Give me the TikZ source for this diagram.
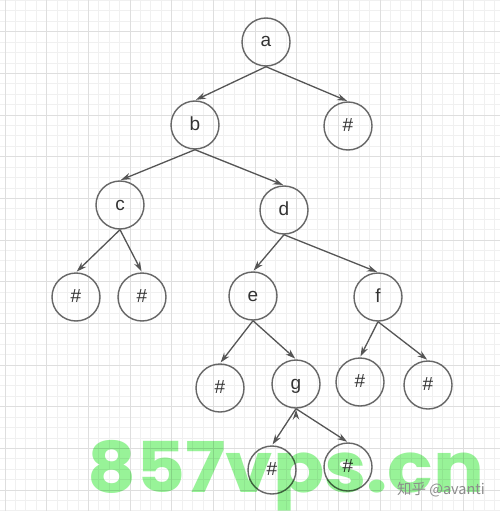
\documentclass[tikz,border=0pt]{standalone}
\usepackage{fontspec}
\setmainfont{Liberation Sans}
\newfontfamily\cjkfont{Noto Sans CJK SC}
\newfontfamily\markfont{Poppins}
\usetikzlibrary{arrows.meta}
\definecolor{gridminor}{HTML}{F0F0F0}
\definecolor{gridmajor}{HTML}{DEDEDE}
\definecolor{nodeline}{HTML}{666666}
\definecolor{linkline}{HTML}{555555}
\definecolor{marktext}{HTML}{98F398}

\begin{document}
\begin{tikzpicture}[x=1pt,y=-1pt,>={Stealth[length=10pt,width=6.5pt]},
                    vertex/.style={circle,draw=nodeline,line width=1.4pt,minimum size=48pt,
                                   inner sep=0pt,text=black!80,text height=14pt,text depth=4pt,
                                   font=\fontsize{19}{19}\selectfont},
                    link/.style={->,draw=linkline,line width=1.3pt,shorten >=1pt}]

  \useasboundingbox (0,0) rectangle (500,511);
  \fill[white] (0,0) rectangle (500,511);
  \foreach \i in {0,...,47}
    \draw[gridminor,line width=0.8pt] (5+\i*10.4167,0) -- (5+\i*10.4167,511);
  \foreach \i in {0,...,49}
    \draw[gridminor,line width=0.8pt] (0,0.45+\i*10.4167) -- (500,0.45+\i*10.4167);
  \foreach \i in {0,...,11}
    \draw[gridmajor,line width=0.9pt] (5+\i*41.667,0) -- (5+\i*41.667,511);
  \foreach \i in {0,...,11}
    \draw[gridmajor,line width=0.9pt] (0,31.7+\i*41.667) -- (500,31.7+\i*41.667);

  \node[vertex] (a)  at (266,42)  {a};
  \node[vertex] (b)  at (195,125) {b};
  \node[vertex] (n1) at (348,126) {\#};
  \node[vertex] (c)  at (120,205) {c};
  \node[vertex] (d)  at (284,210) {d};
  \node[vertex] (n2) at (76,297)  {\#};
  \node[vertex] (n3) at (142,297) {\#};
  \node[vertex] (e)  at (253,296) {e};
  \node[vertex] (f)  at (378,297) {f};
  \node[vertex] (n4) at (220,388) {\#};
  \node[vertex] (g)  at (296,384) {g};
  \node[vertex] (n5) at (360,382) {\#};
  \node[vertex] (n6) at (428,385) {\#};
  \node[vertex] (n7) at (272,470) {\#};
  \node[vertex] (n8) at (348,467) {\#};

  \path[link] (a.south) edge (b.north)
              (a.south) edge (n1.north)
              (b.south) edge (c.north)
              (b.south) edge (d.north)
              (c.south) edge (n2.north)
              (c.south) edge (n3.north)
              (d.south) edge (e.north)
              (d.south) edge (f.north)
              (e.south) edge (n4.north)
              (e.south) edge (g.north)
              (f.south) edge (n5.north)
              (f.south) edge (n6.north)
              (g.south) edge (n7.north)
              (g.south) edge (n8.north);

  \node[font=\markfont\bfseries\fontsize{70}{70}\selectfont,text=marktext,blend mode=multiply,
        anchor=base west,inner sep=0pt,xscale=1.08] (mark) at (87,492) {857vps.cn};
  \node[font=\cjkfont\fontsize{14.5}{14.5}\selectfont,text=black!45,inner sep=0pt] (credit) at (441,490) {知乎 @avanti};
\end{tikzpicture}
\end{document}
